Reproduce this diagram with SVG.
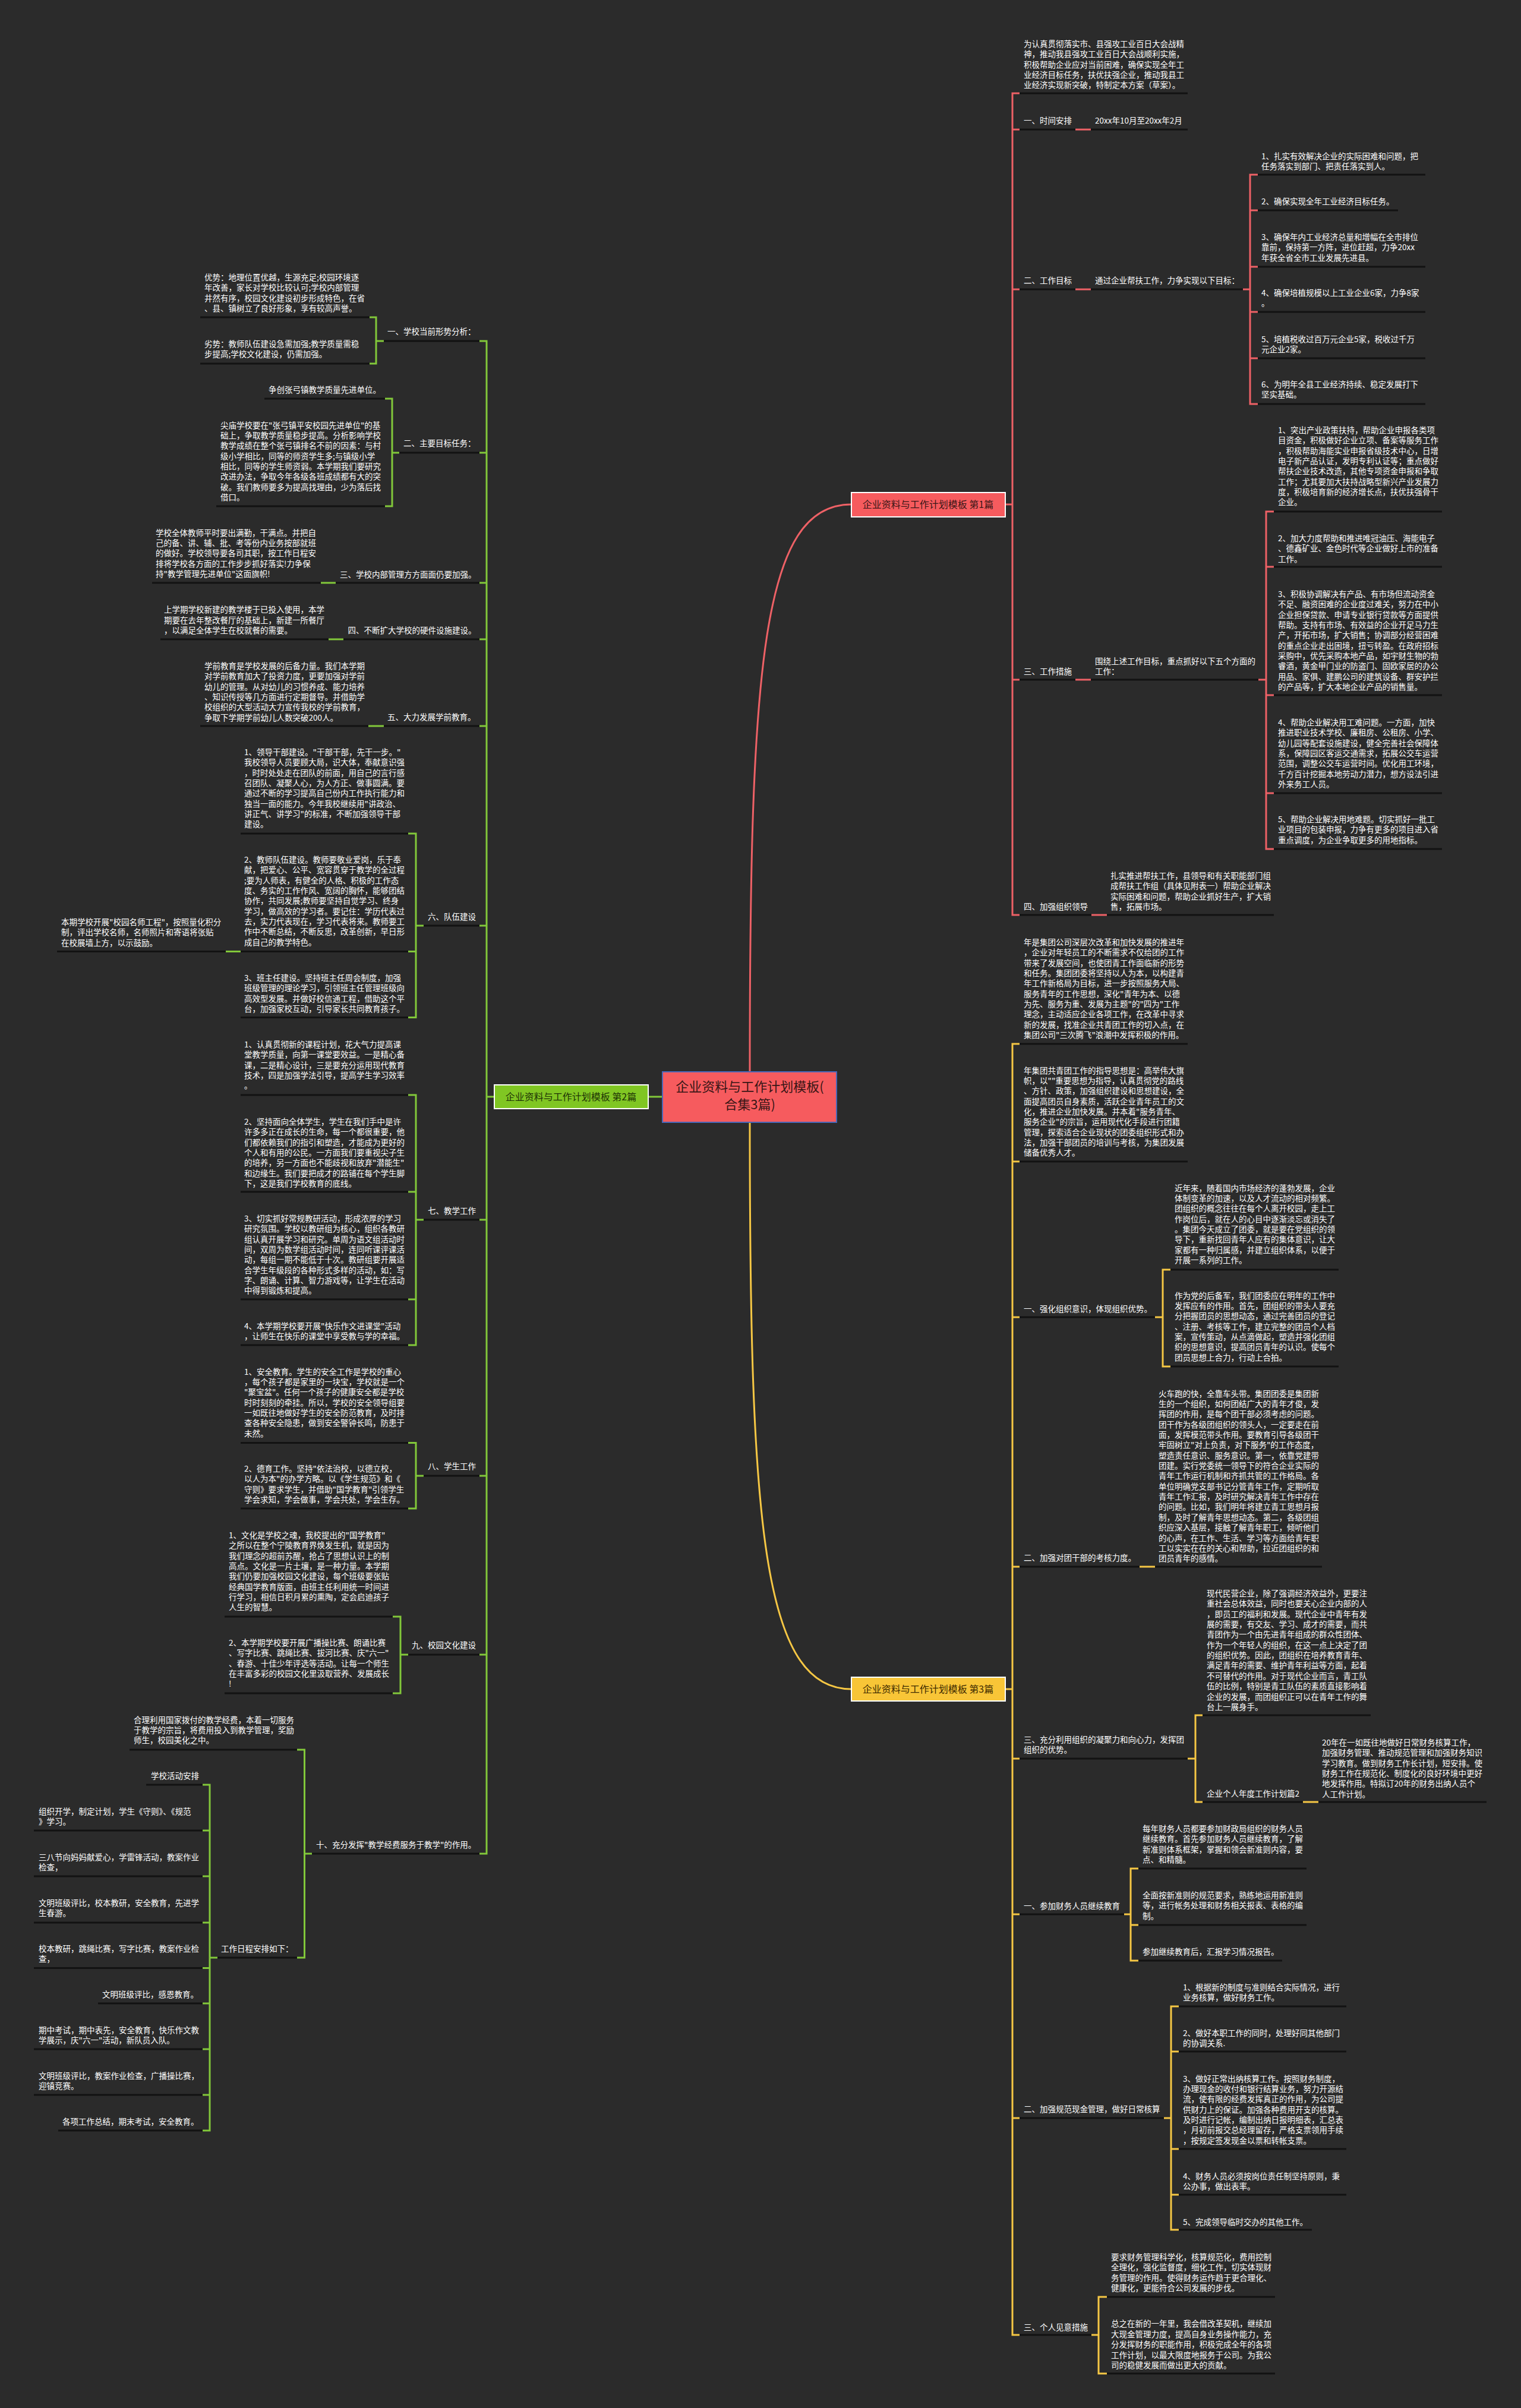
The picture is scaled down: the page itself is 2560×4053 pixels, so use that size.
<svg xmlns="http://www.w3.org/2000/svg" width="2560" height="4053" viewBox="0 0 2560 4053">
<style>
.t{font-family:"Noto Sans CJK SC","Noto Sans",sans-serif;font-size:13.5px;fill:#ffffff}
.u{stroke:#121212;stroke-width:3;fill:none}
.r{stroke:#ee6166;stroke-width:3;fill:none}
.g{stroke:#82c83a;stroke-width:3;fill:none}
.y{stroke:#f6c744;stroke-width:3;fill:none}
.bt{font-family:"Noto Sans CJK SC","Noto Sans",sans-serif;font-size:16px;fill:#3a1616;text-anchor:middle}
</style>
<rect width="2560" height="4053" fill="#2b2b2b"/>

<g id="connectors">
<path class="r" d="M1262,1804 C1262,1120 1282,849 1433,849" stroke-width="3.5"/>
<path class="y" d="M1262,1889 C1262,2560 1282,2843 1433,2843" stroke-width="3.5"/>
<path class="g" d="M1115,1846 H1091"/>
<!-- branch 1 -->
<path class="r" d="M1692,849 H1704 M1716,157 H1704 V1540 H1716 M1704,218 H1716 M1704,487 H1716 M1704,1144 H1716"/>
<path class="r" d="M1810,218 H1836 M1810,487 H1836 M1810,1144 H1836 M1837,1540 H1863"/>
<path class="r" d="M2092,487 H2104 M2117,294 H2104 V680 H2117 M2104,354 H2117 M2104,449 H2117 M2104,525 H2117 M2104,603 H2117"/>
<path class="r" d="M2118,1144 H2131 M2144,861 H2131 V1429 H2144 M2131,954 H2144 M2131,1170 H2144 M2131,1335 H2144"/>
<!-- branch 3 -->
<path class="y" d="M1692,2843 H1704 M1716,1757 H1704 V3930 H1716 M1704,1955 H1716 M1704,2217 H1716 M1704,2637 H1716 M1704,2960 H1716 M1704,3222 H1716 M1704,3565 H1716"/>
<path class="y" d="M1944,2217 H1957 M1970,2137 H1957 V2300 H1970"/>
<path class="y" d="M1918,2637 H1944"/>
<path class="y" d="M1999,2960 H2012 M2024,2887 H2012 V3033 H2024 M2193,3033 H2219"/>
<path class="y" d="M1892,3222 H1903 M1916,3145 H1903 V3300 H1916 M1903,3240 H1916"/>
<path class="y" d="M1959,3565 H1971 M1984,3377 H1971 V3753 H1984 M1971,3453 H1984 M1971,3617 H1984 M1971,3694 H1984"/>
<path class="y" d="M1837,3930 H1849 M1863,3866 H1849 V3995 H1863"/>
<!-- branch 2 -->
<path class="g" d="M832,1846 H819 M807,574 H819 V3120 H807 M819,762 H807 M819,981 H807 M819,1076 H807 M819,1222 H807 M819,1558 H807 M819,2053 H807 M819,2484 H807 M819,2785 H807"/>
<path class="g" d="M646,574 H633 M622,534 H633 V612 H622"/>
<path class="g" d="M672,762 H660 M648,671 H660 V852 H648"/>
<path class="g" d="M565,981 H540 M578,1076 H553 M646,1222 H620"/>
<path class="g" d="M713,1558 H700 M687,1403 H700 V1712.5 H687 M700,1601.6 H687 M405,1601.6 H380"/>
<path class="g" d="M713,2053 H700 M687,1843 H700 V2264 H687 M700,2006 H687 M700,2187 H687"/>
<path class="g" d="M713,2484 H700 M687,2428.6 H700 V2539 H687"/>
<path class="g" d="M687,2785 H674 M661,2721 H674 V2850 H661"/>
<path class="g" d="M525,3120 H512.5 M500,2945 H512.5 V3295 H500"/>
<path class="g" d="M366,3295 H353 M341,3004 H353 V3586 H341 M353,3081 H341 M353,3158 H341 M353,3236 H341 M353,3312.5 H341 M353,3372 H341 M353,3449 H341 M353,3526 H341"/>
</g>

<g id="root">
<rect x="1115" y="1804" width="293" height="85" fill="#f65b5e" stroke="#4a67b8" stroke-width="2"/>
<text class="bt" style="font-size:22px" x="1262" y="1837">企业资料与工作计划模板(</text>
<text class="bt" style="font-size:22px" x="1262" y="1867">合集3篇)</text>
</g>
<g id="b1">
<rect x="1433" y="829" width="259" height="41" fill="#f65b5e" stroke="#ffffff" stroke-width="2"/>
<text class="bt" x="1562" y="855">企业资料与工作计划模板 第1篇</text>
</g>
<g id="b2">
<rect x="832" y="1826" width="259" height="40" fill="#80c623" stroke="#ffffff" stroke-width="2"/>
<text class="bt" x="961" y="1852" style="fill:#1e3305">企业资料与工作计划模板 第2篇</text>
</g>
<g id="b3">
<rect x="1433" y="2823" width="259" height="40" fill="#f8c537" stroke="#ffffff" stroke-width="2"/>
<text class="bt" x="1562" y="2849" style="fill:#3d2a00">企业资料与工作计划模板 第3篇</text>
</g>

<!-- ===== Branch 1 ===== -->
<g id="n1-intro"><text class="t" x="1723" y="79"><tspan x="1723">为认真贯彻落实市、县强攻工业百日大会战精</tspan><tspan x="1723" dy="17.35">神，推动我县强攻工业百日大会战顺利实施，</tspan><tspan x="1723" dy="17.35">积极帮助企业应对当前困难，确保实现全年工</tspan><tspan x="1723" dy="17.35">业经济目标任务，扶优扶强企业，推动我县工</tspan><tspan x="1723" dy="17.35">业经济实现新突破，特制定本方案（草案）。</tspan></text><line class="u" x1="1716" y1="157" x2="1999" y2="157"/></g>
<g id="n1-s1"><text class="t" x="1723" y="208">一、时间安排</text><line class="u" x1="1716" y1="218" x2="1810" y2="218"/></g>
<g id="n1-s1c"><text class="t" x="1843" y="208">20xx年10月至20xx年2月</text><line class="u" x1="1836" y1="218" x2="1999" y2="218"/></g>
<g id="n1-s2"><text class="t" x="1723" y="477">二、工作目标</text><line class="u" x1="1716" y1="487" x2="1810" y2="487"/></g>
<g id="n1-s2c"><text class="t" x="1843" y="477">通过企业帮扶工作，力争实现以下目标：</text><line class="u" x1="1836" y1="487" x2="2092" y2="487"/></g>
<g id="n1-s2-1"><text class="t" x="2123" y="268"><tspan x="2123">1、扎实有效解决企业的实际困难和问题，把</tspan><tspan x="2123" dy="17.35">任务落实到部门、把责任落实到人。</tspan></text><line class="u" x1="2117" y1="294" x2="2399" y2="294"/></g>
<g id="n1-s2-2"><text class="t" x="2123" y="344">2、确保实现全年工业经济目标任务。</text><line class="u" x1="2117" y1="354" x2="2353" y2="354"/></g>
<g id="n1-s2-3"><text class="t" x="2123" y="404"><tspan x="2123">3、确保年内工业经济总量和增幅在全市排位</tspan><tspan x="2123" dy="17.35">靠前，保持第一方阵，进位赶超，力争20xx</tspan><tspan x="2123" dy="17.35">年获全省全市工业发展先进县。</tspan></text><line class="u" x1="2117" y1="449" x2="2399" y2="449"/></g>
<g id="n1-s2-4"><text class="t" x="2123" y="498"><tspan x="2123">4、确保培植规模以上工业企业6家，力争8家</tspan><tspan x="2123" dy="17.35">。</tspan></text><line class="u" x1="2117" y1="525" x2="2399" y2="525"/></g>
<g id="n1-s2-5"><text class="t" x="2123" y="575.5"><tspan x="2123">5、培植税收过百万元企业5家，税收过千万</tspan><tspan x="2123" dy="17.35">元企业2家。</tspan></text><line class="u" x1="2117" y1="603" x2="2399" y2="603"/></g>
<g id="n1-s2-6"><text class="t" x="2123" y="652"><tspan x="2123">6、为明年全县工业经济持续、稳定发展打下</tspan><tspan x="2123" dy="17.35">坚实基础。</tspan></text><line class="u" x1="2117" y1="680" x2="2399" y2="680"/></g>
<g id="n1-s3"><text class="t" x="1723" y="1135">三、工作措施</text><line class="u" x1="1716" y1="1144" x2="1810" y2="1144"/></g>
<g id="n1-s3c"><text class="t" x="1843" y="1118"><tspan x="1843">围绕上述工作目标，重点抓好以下五个方面的</tspan><tspan x="1843" dy="17.35">工作：</tspan></text><line class="u" x1="1836" y1="1144" x2="2118" y2="1144"/></g>
<g id="n1-s3-1"><text class="t" x="2151" y="729"><tspan x="2151">1、突出产业政策扶持，帮助企业申报各类项</tspan><tspan x="2151" dy="17.35">目资金，积极做好企业立项、备案等服务工作</tspan><tspan x="2151" dy="17.35">，积极帮助海能实业申报省级技术中心，日增</tspan><tspan x="2151" dy="17.35">电子新产品认证，发明专利认证等；重点做好</tspan><tspan x="2151" dy="17.35">帮扶企业技术改造，其他专项资金申报和争取</tspan><tspan x="2151" dy="17.35">工作；尤其要加大扶持战略型新兴产业发展力</tspan><tspan x="2151" dy="17.35">度，积极培育新的经济增长点，扶优扶强骨干</tspan><tspan x="2151" dy="17.35">企业。</tspan></text><line class="u" x1="2144" y1="861" x2="2427" y2="861"/></g>
<g id="n1-s3-2"><text class="t" x="2151" y="911"><tspan x="2151">2、加大力度帮助和推进唯冠油压、海能电子</tspan><tspan x="2151" dy="17.35">、德鑫矿业、金色时代等企业做好上市的准备</tspan><tspan x="2151" dy="17.35">工作。</tspan></text><line class="u" x1="2144" y1="954" x2="2427" y2="954"/></g>
<g id="n1-s3-3"><text class="t" x="2151" y="1005"><tspan x="2151">3、积极协调解决有产品、有市场但流动资金</tspan><tspan x="2151" dy="17.35">不足、融资困难的企业度过难关，努力在中小</tspan><tspan x="2151" dy="17.35">企业担保贷款、申请专业银行贷款等方面提供</tspan><tspan x="2151" dy="17.35">帮助。支持有市场、有效益的企业开足马力生</tspan><tspan x="2151" dy="17.35">产，开拓市场，扩大销售；协调部分经营困难</tspan><tspan x="2151" dy="17.35">的重点企业走出困境，扭亏转盈。在政府招标</tspan><tspan x="2151" dy="17.35">采购中，优先采购本地产品，如宇财生物的勃</tspan><tspan x="2151" dy="17.35">睿酒，黄金甲门业的防盗门、固欧家居的办公</tspan><tspan x="2151" dy="17.35">用品、家俱、建鹏公司的建筑设备、群安护拦</tspan><tspan x="2151" dy="17.35">的产品等，扩大本地企业产品的销售量。</tspan></text><line class="u" x1="2144" y1="1170" x2="2427" y2="1170"/></g>
<g id="n1-s3-4"><text class="t" x="2151" y="1221"><tspan x="2151">4、帮助企业解决用工难问题。一方面，加快</tspan><tspan x="2151" dy="17.35">推进职业技术学校、廉租房、公租房、小学、</tspan><tspan x="2151" dy="17.35">幼儿园等配套设施建设，健全完善社会保障体</tspan><tspan x="2151" dy="17.35">系，保障园区客运交通需求，拓展公交车运营</tspan><tspan x="2151" dy="17.35">范围，调整公交车运营时间。优化用工环境，</tspan><tspan x="2151" dy="17.35">千方百计挖掘本地劳动力潜力，想方设法引进</tspan><tspan x="2151" dy="17.35">外来务工人员。</tspan></text><line class="u" x1="2144" y1="1335" x2="2427" y2="1335"/></g>
<g id="n1-s3-5"><text class="t" x="2151" y="1384"><tspan x="2151">5、帮助企业解决用地难题。切实抓好一批工</tspan><tspan x="2151" dy="17.35">业项目的包装申报，力争有更多的项目进入省</tspan><tspan x="2151" dy="17.35">重点调度，为企业争取更多的用地指标。</tspan></text><line class="u" x1="2144" y1="1429" x2="2427" y2="1429"/></g>
<g id="n1-s4"><text class="t" x="1723" y="1531">四、加强组织领导</text><line class="u" x1="1716" y1="1540" x2="1837" y2="1540"/></g>
<g id="n1-s4c"><text class="t" x="1869" y="1479"><tspan x="1869">扎实推进帮扶工作，县领导和有关职能部门组</tspan><tspan x="1869" dy="17.35">成帮扶工作组（具体见附表一）帮助企业解决</tspan><tspan x="1869" dy="17.35">实际困难和问题，帮助企业抓好生产，扩大销</tspan><tspan x="1869" dy="17.35">售，拓展市场。</tspan></text><line class="u" x1="1863" y1="1540" x2="2144" y2="1540"/></g>

<!-- ===== Branch 3 ===== -->
<g id="n3-a"><text class="t" x="1723" y="1591"><tspan x="1723">年是集团公司深层次改革和加快发展的推进年</tspan><tspan x="1723" dy="17.35">，企业对年轻员工的不断需求不仅给团的工作</tspan><tspan x="1723" dy="17.35">带来了发展空间，也使团青工作面临新的形势</tspan><tspan x="1723" dy="17.35">和任务。集团团委将坚持以人为本，以构建青</tspan><tspan x="1723" dy="17.35">年工作新格局为目标，进一步按照服务大局、</tspan><tspan x="1723" dy="17.35">服务青年的工作思想，深化"青年为本、以德</tspan><tspan x="1723" dy="17.35">为先、服务为重、发展为主题"的"四为"工作</tspan><tspan x="1723" dy="17.35">理念，主动适应企业各项工作，在改革中寻求</tspan><tspan x="1723" dy="17.35">新的发展，找准企业共青团工作的切入点，在</tspan><tspan x="1723" dy="17.35">集团公司"三次腾飞"浪潮中发挥积极的作用。</tspan></text><line class="u" x1="1716" y1="1757" x2="1999" y2="1757"/></g>
<g id="n3-b"><text class="t" x="1723" y="1806.5"><tspan x="1723">年集团共青团工作的指导思想是：高举伟大旗</tspan><tspan x="1723" dy="17.35">帜，以""重要思想为指导，认真贯彻党的路线</tspan><tspan x="1723" dy="17.35">、方针、政策，加强组织建设和思想建设，全</tspan><tspan x="1723" dy="17.35">面提高团员自身素质，活跃企业青年员工的文</tspan><tspan x="1723" dy="17.35">化，推进企业加快发展。并本着"服务青年、</tspan><tspan x="1723" dy="17.35">服务企业"的宗旨，运用现代化手段进行团籍</tspan><tspan x="1723" dy="17.35">管理，探索适合企业现状的团委组织形式和办</tspan><tspan x="1723" dy="17.35">法，加强干部团员的培训与考核，为集团发展</tspan><tspan x="1723" dy="17.35">储备优秀人才。</tspan></text><line class="u" x1="1716" y1="1955" x2="1999" y2="1955"/></g>
<g id="n3-c"><text class="t" x="1723" y="2208">一、强化组织意识，体现组织优势。</text><line class="u" x1="1716" y1="2217" x2="1944" y2="2217"/></g>
<g id="n3-c1"><text class="t" x="1977" y="2004.5"><tspan x="1977">近年来，随着国内市场经济的蓬勃发展，企业</tspan><tspan x="1977" dy="17.35">体制变革的加速，以及人才流动的相对频繁。</tspan><tspan x="1977" dy="17.35">团组织的概念往往在每个人离开校园，走上工</tspan><tspan x="1977" dy="17.35">作岗位后，就在人的心目中逐渐淡忘或消失了</tspan><tspan x="1977" dy="17.35">。集团今天成立了团委，就是要在党组织的领</tspan><tspan x="1977" dy="17.35">导下，重新找回青年人应有的集体意识，让大</tspan><tspan x="1977" dy="17.35">家都有一种归属感，并建立组织体系，以便于</tspan><tspan x="1977" dy="17.35">开展一系列的工作。</tspan></text><line class="u" x1="1970" y1="2137" x2="2253" y2="2137"/></g>
<g id="n3-c2"><text class="t" x="1977" y="2185.6"><tspan x="1977">作为党的后备军，我们团委应在明年的工作中</tspan><tspan x="1977" dy="17.35">发挥应有的作用。首先，团组织的带头人要充</tspan><tspan x="1977" dy="17.35">分把握团员的思想动态，通过完善团员的登记</tspan><tspan x="1977" dy="17.35">、注册、考核等工作，建立完整的团员个人档</tspan><tspan x="1977" dy="17.35">案，宣传策动，从点滴做起，塑造并强化团组</tspan><tspan x="1977" dy="17.35">织的思想意识，提高团员青年的认识。使每个</tspan><tspan x="1977" dy="17.35">团员思想上合力，行动上合拍。</tspan></text><line class="u" x1="1970" y1="2300" x2="2253" y2="2300"/></g>
<g id="n3-d"><text class="t" x="1723" y="2627">二、加强对团干部的考核力度。</text><line class="u" x1="1716" y1="2637" x2="1918" y2="2637"/></g>
<g id="n3-d1"><text class="t" x="1950" y="2350.6"><tspan x="1950">火车跑的快，全靠车头带。集团团委是集团新</tspan><tspan x="1950" dy="17.35">生的一个组织，如何团结广大的青年才俊，发</tspan><tspan x="1950" dy="17.35">挥团的作用，是每个团干部必须考虑的问题。</tspan><tspan x="1950" dy="17.35">团干作为各级团组织的领头人，一定要走在前</tspan><tspan x="1950" dy="17.35">面，发挥模范带头作用。要教育引导各级团干</tspan><tspan x="1950" dy="17.35">牢固树立"对上负责，对下服务"的工作态度，</tspan><tspan x="1950" dy="17.35">塑造责任意识、服务意识。第一，依靠党建带</tspan><tspan x="1950" dy="17.35">团建。实行党委统一领导下的符合企业实际的</tspan><tspan x="1950" dy="17.35">青年工作运行机制和齐抓共管的工作格局。各</tspan><tspan x="1950" dy="17.35">单位明确党支部书记分管青年工作，定期听取</tspan><tspan x="1950" dy="17.35">青年工作汇报，及时研究解决青年工作中存在</tspan><tspan x="1950" dy="17.35">的问题。比如，我们明年将建立青工思想月报</tspan><tspan x="1950" dy="17.35">制，及时了解青年思想动态。第二，各级团组</tspan><tspan x="1950" dy="17.35">织应深入基层，接触了解青年职工，倾听他们</tspan><tspan x="1950" dy="17.35">的心声，在工作、生活、学习等方面给青年职</tspan><tspan x="1950" dy="17.35">工以实实在在的关心和帮助，拉近团组织的和</tspan><tspan x="1950" dy="17.35">团员青年的感情。</tspan></text><line class="u" x1="1944" y1="2637" x2="2225" y2="2637"/></g>
<g id="n3-e"><text class="t" x="1723" y="2933"><tspan x="1723">三、充分利用组织的凝聚力和向心力，发挥团</tspan><tspan x="1723" dy="17.35">组织的优势。</tspan></text><line class="u" x1="1716" y1="2960" x2="1999" y2="2960"/></g>
<g id="n3-e1"><text class="t" x="2031" y="2687"><tspan x="2031">现代民营企业，除了强调经济效益外，更要注</tspan><tspan x="2031" dy="17.35">重社会总体效益，同时也要关心企业内部的人</tspan><tspan x="2031" dy="17.35">，即员工的福利和发展。现代企业中青年有发</tspan><tspan x="2031" dy="17.35">展的需要，有交友、学习、成才的需要，而共</tspan><tspan x="2031" dy="17.35">青团作为一个由先进青年组成的群众性团体、</tspan><tspan x="2031" dy="17.35">作为一个年轻人的组织，在这一点上决定了团</tspan><tspan x="2031" dy="17.35">的组织优势。因此，团组织在培养教育青年、</tspan><tspan x="2031" dy="17.35">满足青年的需要、维护青年利益等方面，起着</tspan><tspan x="2031" dy="17.35">不可替代的作用。对于现代企业而言，青工队</tspan><tspan x="2031" dy="17.35">伍的比例，特别是青工队伍的素质直接影响着</tspan><tspan x="2031" dy="17.35">企业的发展，而团组织正可以在青年工作的舞</tspan><tspan x="2031" dy="17.35">台上一展身手。</tspan></text><line class="u" x1="2024" y1="2887" x2="2307" y2="2887"/></g>
<g id="n3-e2"><text class="t" x="2031" y="3024">企业个人年度工作计划篇2</text><line class="u" x1="2024" y1="3033" x2="2193" y2="3033"/></g>
<g id="n3-e2c"><text class="t" x="2225" y="2938"><tspan x="2225">20年在一如既往地做好日常财务核算工作，</tspan><tspan x="2225" dy="17.35">加强财务管理、推动规范管理和加强财务知识</tspan><tspan x="2225" dy="17.35">学习教育。做到财务工作长计划，短安排。使</tspan><tspan x="2225" dy="17.35">财务工作在规范化、制度化的良好环境中更好</tspan><tspan x="2225" dy="17.35">地发挥作用。特拟订20年的财务出纳人员个</tspan><tspan x="2225" dy="17.35">人工作计划。</tspan></text><line class="u" x1="2219" y1="3033" x2="2502" y2="3033"/></g>
<g id="n3-f"><text class="t" x="1723" y="3212.5">一、参加财务人员继续教育</text><line class="u" x1="1716" y1="3222" x2="1892" y2="3222"/></g>
<g id="n3-f1"><text class="t" x="1923" y="3083"><tspan x="1923">每年财务人员都要参加财政局组织的财务人员</tspan><tspan x="1923" dy="17.35">继续教育。首先参加财务人员继续教育，了解</tspan><tspan x="1923" dy="17.35">新准则体系框架，掌握和领会新准则内容，要</tspan><tspan x="1923" dy="17.35">点、和精髓。</tspan></text><line class="u" x1="1916" y1="3145" x2="2199" y2="3145"/></g>
<g id="n3-f2"><text class="t" x="1923" y="3195"><tspan x="1923">全面按新准则的规范要求，熟练地运用新准则</tspan><tspan x="1923" dy="17.35">等，进行帐务处理和财务相关报表、表格的编</tspan><tspan x="1923" dy="17.35">制。</tspan></text><line class="u" x1="1916" y1="3240" x2="2199" y2="3240"/></g>
<g id="n3-f3"><text class="t" x="1923" y="3290">参加继续教育后，汇报学习情况报告。</text><line class="u" x1="1916" y1="3300" x2="2158" y2="3300"/></g>
<g id="n3-g"><text class="t" x="1723" y="3555">二、加强规范现金管理，做好日常核算</text><line class="u" x1="1716" y1="3565" x2="1959" y2="3565"/></g>
<g id="n3-g1"><text class="t" x="1991" y="3349.5"><tspan x="1991">1、根据新的制度与准则结合实际情况，进行</tspan><tspan x="1991" dy="17.35">业务核算，做好财务工作。</tspan></text><line class="u" x1="1984" y1="3377" x2="2266" y2="3377"/></g>
<g id="n3-g2"><text class="t" x="1991" y="3427"><tspan x="1991">2、做好本职工作的同时，处理好同其他部门</tspan><tspan x="1991" dy="17.35">的协调关系.</tspan></text><line class="u" x1="1984" y1="3453" x2="2266" y2="3453"/></g>
<g id="n3-g3"><text class="t" x="1991" y="3503.5"><tspan x="1991">3、做好正常出纳核算工作。按照财务制度，</tspan><tspan x="1991" dy="17.35">办理现金的收付和银行结算业务，努力开源结</tspan><tspan x="1991" dy="17.35">流，使有限的经费发挥真正的作用，为公司提</tspan><tspan x="1991" dy="17.35">供财力上的保证。加强各种费用开支的核算。</tspan><tspan x="1991" dy="17.35">及时进行记帐，编制出纳日报明细表，汇总表</tspan><tspan x="1991" dy="17.35">，月初前报交总经理留存，严格支票领用手续</tspan><tspan x="1991" dy="17.35">，按规定签发现金以票和转帐支票。</tspan></text><line class="u" x1="1984" y1="3617" x2="2266" y2="3617"/></g>
<g id="n3-g4"><text class="t" x="1991" y="3668"><tspan x="1991">4、财务人员必须按岗位责任制坚持原则，秉</tspan><tspan x="1991" dy="17.35">公办事，做出表率。</tspan></text><line class="u" x1="1984" y1="3694" x2="2266" y2="3694"/></g>
<g id="n3-g5"><text class="t" x="1991" y="3745">5、完成领导临时交办的其他工作。</text><line class="u" x1="1984" y1="3753" x2="2208" y2="3753"/></g>
<g id="n3-h"><text class="t" x="1723" y="3922">三、个人见意措施</text><line class="u" x1="1716" y1="3930" x2="1837" y2="3930"/></g>
<g id="n3-h1"><text class="t" x="1870" y="3804"><tspan x="1870">要求财务管理科学化，核算规范化，费用控制</tspan><tspan x="1870" dy="17.35">全理化，强化监督度，细化工作，切实体现财</tspan><tspan x="1870" dy="17.35">务管理的作用。使得财务运作趋于更合理化、</tspan><tspan x="1870" dy="17.35">健康化，更能符合公司发展的步伐。</tspan></text><line class="u" x1="1863" y1="3866" x2="2146" y2="3866"/></g>
<g id="n3-h2"><text class="t" x="1870" y="3916"><tspan x="1870">总之在新的一年里，我会借改革契机，继续加</tspan><tspan x="1870" dy="17.6">大现金管理力度，提高自身业务操作能力，充</tspan><tspan x="1870" dy="17.6">分发挥财务的职能作用，积极完成全年的各项</tspan><tspan x="1870" dy="17.6">工作计划，以最大限度地报务于公司。为我公</tspan><tspan x="1870" dy="17.6">司的稳健发展而做出更大的贡献。</tspan></text><line class="u" x1="1863" y1="3995" x2="2146" y2="3995"/></g>

<!-- ===== Branch 2 ===== -->
<g id="n2-1"><text class="t" x="652" y="563">一、学校当前形势分析：</text><line class="u" x1="646" y1="574" x2="807" y2="574"/></g>
<g id="n2-1a"><text class="t" x="344" y="472"><tspan x="344">优势：地理位置优越，生源充足;校园环境逐</tspan><tspan x="344" dy="17.35">年改善，家长对学校比较认可;学校内部管理</tspan><tspan x="344" dy="17.35">井然有序，校园文化建设初步形成特色，在省</tspan><tspan x="344" dy="17.35">、县、镇树立了良好形象，享有较高声誉。</tspan></text><line class="u" x1="337" y1="534" x2="622" y2="534"/></g>
<g id="n2-1b"><text class="t" x="344" y="584"><tspan x="344">劣势：教师队伍建设急需加强;教学质量需稳</tspan><tspan x="344" dy="17.35">步提高;学校文化建设，仍需加强。</tspan></text><line class="u" x1="337" y1="612" x2="622" y2="612"/></g>
<g id="n2-2"><text class="t" x="679" y="751">二、主要目标任务：</text><line class="u" x1="672" y1="762" x2="807" y2="762"/></g>
<g id="n2-2a"><text class="t" x="452" y="661">争创张弓镇教学质量先进单位。</text><line class="u" x1="445" y1="671" x2="648" y2="671"/></g>
<g id="n2-2b"><text class="t" x="371" y="720.5"><tspan x="371">尖庙学校要在"张弓镇平安校园先进单位"的基</tspan><tspan x="371" dy="17.35">础上，争取教学质量稳步提高。分析影响学校</tspan><tspan x="371" dy="17.35">教学成绩在整个张弓镇排名不前的因素：与村</tspan><tspan x="371" dy="17.35">级小学相比，同等的师资学生多;与镇级小学</tspan><tspan x="371" dy="17.35">相比，同等的学生师资弱。本学期我们要研究</tspan><tspan x="371" dy="17.35">改进办法，争取今年各级各班成绩都有大的突</tspan><tspan x="371" dy="17.35">破。我们教师要多为提高找理由，少为落后找</tspan><tspan x="371" dy="17.35">借口。</tspan></text><line class="u" x1="364" y1="852" x2="648" y2="852"/></g>
<g id="n2-3"><text class="t" x="572" y="971.5">三、学校内部管理方方面面仍要加强。</text><line class="u" x1="565" y1="981" x2="807" y2="981"/></g>
<g id="n2-3a"><text class="t" x="262" y="901.6"><tspan x="262">学校全体教师平时要出满勤，干满点。并把自</tspan><tspan x="262" dy="17.35">己的备、讲、辅、批、考等份内业务按部就班</tspan><tspan x="262" dy="17.35">的做好。学校领导要各司其职，按工作日程安</tspan><tspan x="262" dy="17.35">排将学校各方面的工作步步抓好落实!力争保</tspan><tspan x="262" dy="17.35">持"教学管理先进单位"这面旗帜!</tspan></text><line class="u" x1="256" y1="981" x2="540" y2="981"/></g>
<g id="n2-4"><text class="t" x="585.5" y="1066">四、不断扩大学校的硬件设施建设。</text><line class="u" x1="578" y1="1076" x2="807" y2="1076"/></g>
<g id="n2-4a"><text class="t" x="276" y="1031"><tspan x="276">上学期学校新建的教学楼于已投入使用，本学</tspan><tspan x="276" dy="17.5">期要在去年整改餐厅的基础上，新建一所餐厅</tspan><tspan x="276" dy="17.5">，以满足全体学生在校就餐的需要。</tspan></text><line class="u" x1="270" y1="1076" x2="553" y2="1076"/></g>
<g id="n2-5"><text class="t" x="652" y="1212">五、大力发展学前教育。</text><line class="u" x1="646" y1="1222" x2="807" y2="1222"/></g>
<g id="n2-5a"><text class="t" x="344" y="1126"><tspan x="344">学前教育是学校发展的后备力量。我们本学期</tspan><tspan x="344" dy="17.35">对学前教育加大了投资力度，更要加强对学前</tspan><tspan x="344" dy="17.35">幼儿的管理。从对幼儿的习惯养成、能力培养</tspan><tspan x="344" dy="17.35">、知识传授等几方面进行定期督导。并借助学</tspan><tspan x="344" dy="17.35">校组织的大型活动大力宣传我校的学前教育，</tspan><tspan x="344" dy="17.35">争取下学期学前幼儿人数突破200人。</tspan></text><line class="u" x1="337" y1="1222" x2="620" y2="1222"/></g>
<g id="n2-6"><text class="t" x="720" y="1548">六、队伍建设</text><line class="u" x1="713" y1="1558" x2="807" y2="1558"/></g>
<g id="n2-6a"><text class="t" x="411" y="1271"><tspan x="411">1、领导干部建设。"干部干部，先干一步。"</tspan><tspan x="411" dy="17.35">我校领导人员要顾大局，识大体，奉献意识强</tspan><tspan x="411" dy="17.35">，时时处处走在团队的前面，用自己的言行感</tspan><tspan x="411" dy="17.35">召团队、凝聚人心，为人方正、做事圆满。要</tspan><tspan x="411" dy="17.35">通过不断的学习提高自己份内工作执行能力和</tspan><tspan x="411" dy="17.35">独当一面的能力。今年我校继续用"讲政治、</tspan><tspan x="411" dy="17.35">讲正气、讲学习"的标准，不断加强领导干部</tspan><tspan x="411" dy="17.35">建设。</tspan></text><line class="u" x1="405" y1="1403" x2="687" y2="1403"/></g>
<g id="n2-6b"><text class="t" x="411" y="1452"><tspan x="411">2、教师队伍建设。教师要敬业爱岗，乐于奉</tspan><tspan x="411" dy="17.35">献，把爱心、公平、宽容贯穿于教学的全过程</tspan><tspan x="411" dy="17.35">;要为人师表，有健全的人格、积极的工作态</tspan><tspan x="411" dy="17.35">度、务实的工作作风、宽阔的胸怀，能够团结</tspan><tspan x="411" dy="17.35">协作，共同发展;教师要坚持自觉学习、终身</tspan><tspan x="411" dy="17.35">学习，做高效的学习者。要记住：学历代表过</tspan><tspan x="411" dy="17.35">去，实力代表现在，学习代表将来。教师要工</tspan><tspan x="411" dy="17.35">作中不断总结，不断反思，改革创新，早日形</tspan><tspan x="411" dy="17.35">成自己的教学特色。</tspan></text><line class="u" x1="405" y1="1601.6" x2="687" y2="1601.6"/></g>
<g id="n2-6b1"><text class="t" x="103" y="1557"><tspan x="103">本期学校开展"校园名师工程"，按照量化积分</tspan><tspan x="103" dy="17.35">制，评出学校名师，名师照片和寄语将张贴</tspan><tspan x="103" dy="17.35">在校展墙上方，以示鼓励。</tspan></text><line class="u" x1="96" y1="1601.6" x2="380" y2="1601.6"/></g>
<g id="n2-6c"><text class="t" x="411" y="1651"><tspan x="411">3、班主任建设。坚持班主任周会制度，加强</tspan><tspan x="411" dy="17.35">班级管理的理论学习，引领班主任管理班级向</tspan><tspan x="411" dy="17.35">高效型发展。并做好校信通工程，借助这个平</tspan><tspan x="411" dy="17.35">台，加强家校互动，引导家长共同教育孩子。</tspan></text><line class="u" x1="405" y1="1712.5" x2="687" y2="1712.5"/></g>
<g id="n2-7"><text class="t" x="720" y="2043">七、教学工作</text><line class="u" x1="713" y1="2053" x2="807" y2="2053"/></g>
<g id="n2-7a"><text class="t" x="411" y="1763"><tspan x="411">1、认真贯彻新的课程计划，花大气力提高课</tspan><tspan x="411" dy="17.35">堂教学质量，向第一课堂要效益。一是精心备</tspan><tspan x="411" dy="17.35">课，二是精心设计，三是要充分运用现代教育</tspan><tspan x="411" dy="17.35">技术，四是加强学法引导，提高学生学习效率</tspan><tspan x="411" dy="17.35">。</tspan></text><line class="u" x1="405" y1="1843" x2="687" y2="1843"/></g>
<g id="n2-7b"><text class="t" x="411" y="1893"><tspan x="411">2、坚持面向全体学生，学生在我们手中是许</tspan><tspan x="411" dy="17.35">许多多正在成长的生命，每一个都很重要，他</tspan><tspan x="411" dy="17.35">们都依赖我们的指引和塑造，才能成为更好的</tspan><tspan x="411" dy="17.35">个人和有用的公民。一方面我们要重视尖子生</tspan><tspan x="411" dy="17.35">的培养，另一方面也不能歧视和放弃"潜能生"</tspan><tspan x="411" dy="17.35">和边缘生。我们要把成才的路铺在每个学生脚</tspan><tspan x="411" dy="17.35">下，这是我们学校教育的底线。</tspan></text><line class="u" x1="405" y1="2006" x2="687" y2="2006"/></g>
<g id="n2-7c"><text class="t" x="411" y="2056"><tspan x="411">3、切实抓好常规教研活动，形成浓厚的学习</tspan><tspan x="411" dy="17.35">研究氛围。学校以教研组为核心，组织各教研</tspan><tspan x="411" dy="17.35">组认真开展学习和研究。单周为语文组活动时</tspan><tspan x="411" dy="17.35">间，双周为数学组活动时间，连同听课评课活</tspan><tspan x="411" dy="17.35">动，每组一期不能低于十次。教研组要开展适</tspan><tspan x="411" dy="17.35">合学生年级段的各种形式多样的活动，如：写</tspan><tspan x="411" dy="17.35">字、朗诵、计算、智力游戏等，让学生在活动</tspan><tspan x="411" dy="17.35">中得到锻炼和提高。</tspan></text><line class="u" x1="405" y1="2187" x2="687" y2="2187"/></g>
<g id="n2-7d"><text class="t" x="411" y="2237"><tspan x="411">4、本学期学校要开展"快乐作文进课堂"活动</tspan><tspan x="411" dy="17.35">，让师生在快乐的课堂中享受教与学的幸福。</tspan></text><line class="u" x1="405" y1="2264" x2="687" y2="2264"/></g>
<g id="n2-8"><text class="t" x="720" y="2473">八、学生工作</text><line class="u" x1="713" y1="2484" x2="807" y2="2484"/></g>
<g id="n2-8a"><text class="t" x="411" y="2313.7"><tspan x="411">1、安全教育。学生的安全工作是学校的重心</tspan><tspan x="411" dy="17.35">，每个孩子都是家里的一块宝，学校就是一个</tspan><tspan x="411" dy="17.35">"聚宝盆"。任何一个孩子的健康安全都是学校</tspan><tspan x="411" dy="17.35">时时刻刻的牵挂。所以，学校的安全领导组要</tspan><tspan x="411" dy="17.35">一如既往地做好学生的安全防范教育，及时排</tspan><tspan x="411" dy="17.35">查各种安全隐患，做到安全警钟长鸣，防患于</tspan><tspan x="411" dy="17.35">未然。</tspan></text><line class="u" x1="405" y1="2428.6" x2="687" y2="2428.6"/></g>
<g id="n2-8b"><text class="t" x="411" y="2477"><tspan x="411">2、德育工作。坚持"依法治校，以德立校，</tspan><tspan x="411" dy="17.35">以人为本"的办学方略。以《学生规范》和《</tspan><tspan x="411" dy="17.35">守则》要求学生，并借助"国学教育"引领学生</tspan><tspan x="411" dy="17.35">学会求知，学会做事，学会共处，学会生存。</tspan></text><line class="u" x1="405" y1="2539" x2="687" y2="2539"/></g>
<g id="n2-9"><text class="t" x="693" y="2774">九、校园文化建设</text><line class="u" x1="687" y1="2785" x2="807" y2="2785"/></g>
<g id="n2-9a"><text class="t" x="385" y="2589"><tspan x="385">1、文化是学校之魂，我校提出的"国学教育"</tspan><tspan x="385" dy="17.35">之所以在整个宁陵教育界焕发生机，就是因为</tspan><tspan x="385" dy="17.35">我们理念的超前苏醒，抢占了思想认识上的制</tspan><tspan x="385" dy="17.35">高点。文化是一片土壤，是一种力量。本学期</tspan><tspan x="385" dy="17.35">我们仍要加强校园文化建设，每个班级要张贴</tspan><tspan x="385" dy="17.35">经典国学教育版面，由班主任利用统一时间进</tspan><tspan x="385" dy="17.35">行学习，相信日积月累的熏陶，定会启迪孩子</tspan><tspan x="385" dy="17.35">人生的智慧。</tspan></text><line class="u" x1="378" y1="2721" x2="661" y2="2721"/></g>
<g id="n2-9b"><text class="t" x="385" y="2770"><tspan x="385">2、本学期学校要开展广播操比赛、朗诵比赛</tspan><tspan x="385" dy="17.35">、写字比赛、跳绳比赛、拔河比赛、庆"六一"</tspan><tspan x="385" dy="17.35">、春游、十佳少年评选等活动。让每一个师生</tspan><tspan x="385" dy="17.35">在丰富多彩的校园文化里汲取营养、发展成长</tspan><tspan x="385" dy="17.35">!</tspan></text><line class="u" x1="378" y1="2850" x2="661" y2="2850"/></g>
<g id="n2-10"><text class="t" x="532" y="3110">十、充分发挥"教学经费服务于教学"的作用。</text><line class="u" x1="525" y1="3120" x2="807" y2="3120"/></g>
<g id="n2-10a"><text class="t" x="225" y="2899.6"><tspan x="225">合理利用国家拨付的教学经费，本着一切服务</tspan><tspan x="225" dy="17.35">于教学的宗旨，将费用投入到教学管理，奖励</tspan><tspan x="225" dy="17.35">师生，校园美化之中。</tspan></text><line class="u" x1="218" y1="2945" x2="500" y2="2945"/></g>
<g id="n2-10b"><text class="t" x="372" y="3285">工作日程安排如下：</text><line class="u" x1="366" y1="3295" x2="500" y2="3295"/></g>
<g id="n2-10b1"><text class="t" x="254" y="2994">学校活动安排</text><line class="u" x1="246" y1="3004" x2="341" y2="3004"/></g>
<g id="n2-10b2"><text class="t" x="65" y="3054"><tspan x="65">组织开学，制定计划，学生《守则》、《规范</tspan><tspan x="65" dy="17.35">》学习。</tspan></text><line class="u" x1="57" y1="3081" x2="341" y2="3081"/></g>
<g id="n2-10b3"><text class="t" x="65" y="3131"><tspan x="65">三八节向妈妈献爱心，学雷锋活动，教案作业</tspan><tspan x="65" dy="17.35">检查，</tspan></text><line class="u" x1="57" y1="3158" x2="341" y2="3158"/></g>
<g id="n2-10b4"><text class="t" x="65" y="3208"><tspan x="65">文明班级评比，校本教研，安全教育，先进学</tspan><tspan x="65" dy="17.35">生春游。</tspan></text><line class="u" x1="57" y1="3236" x2="341" y2="3236"/></g>
<g id="n2-10b5"><text class="t" x="65" y="3285"><tspan x="65">校本教研，跳绳比赛，写字比赛，教案作业检</tspan><tspan x="65" dy="17.35">查，</tspan></text><line class="u" x1="57" y1="3312.5" x2="341" y2="3312.5"/></g>
<g id="n2-10b6"><text class="t" x="172" y="3362">文明班级评比，感恩教育。</text><line class="u" x1="165" y1="3372" x2="341" y2="3372"/></g>
<g id="n2-10b7"><text class="t" x="65" y="3421.6"><tspan x="65">期中考试，期中表先，安全教育，快乐作文教</tspan><tspan x="65" dy="17.35">学展示，庆"六一"活动，新队员入队。</tspan></text><line class="u" x1="57" y1="3449" x2="341" y2="3449"/></g>
<g id="n2-10b8"><text class="t" x="65" y="3499"><tspan x="65">文明班级评比，教案作业检查，广播操比赛，</tspan><tspan x="65" dy="17.35">迎镇竞赛。</tspan></text><line class="u" x1="57" y1="3526" x2="341" y2="3526"/></g>
<g id="n2-10b9"><text class="t" x="105" y="3576">各项工作总结，期末考试，安全教育。</text><line class="u" x1="98" y1="3586" x2="341" y2="3586"/></g>
</svg>
